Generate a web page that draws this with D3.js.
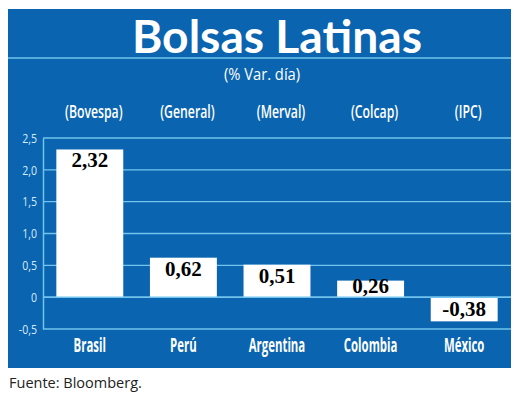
<!DOCTYPE html>
<html><head><meta charset="utf-8">
<script src="https://cdn.jsdelivr.net/npm/d3@7"></script>
<style>
html,body{margin:0;padding:0;background:#fff;}
svg{display:block;}
</style></head>
<body>
<script>
const categories = ["Brasil","Perú","Argentina","Colombia","México"];
const indices = ["(Bovespa)","(General)","(Merval)","(Colcap)","(IPC)"];
const values = [2.32, 0.62, 0.51, 0.26, -0.38];
const valueLabels = ["2,32","0,62","0,51","0,26","-0,38"];
const yTicks = [-0.5, 0, 0.5, 1.0, 1.5, 2.0, 2.5];
const yTickLabels = ["-0,5","0","0,5","1,0","1,5","2,0","2,5"];
const title = "Bolsas Latinas";
const subtitle = "(% Var. día)";
const source = "Fuente: Bloomberg.";

const W = 520, H = 408;
const blue = "#0a64af", light = "#72c4ee", tickCol = "#d6ecfb";
const sansF = "'Open Sans', Lato, sans-serif";

// condense text horizontally by a factor (font has no narrow cut installed)
function condense(sel, f) {
  sel.each(function () {
    const len = this.getComputedTextLength();
    d3.select(this).attr("textLength", len * f).attr("lengthAdjust", "spacingAndGlyphs");
  });
}

const svg = d3.select("body").append("svg").attr("width", W).attr("height", H);

// panel
svg.append("rect").attr("x", 8).attr("y", 9).attr("width", 503).attr("height", 359).attr("fill", blue);
svg.append("line").attr("x1", 8).attr("x2", 511).attr("y1", 58).attr("y2", 58)
  .attr("stroke", light).attr("stroke-width", 1.5);

svg.append("text").attr("x", 277).attr("y", 53).attr("text-anchor", "middle")
  .attr("font-family", "Lato, 'Open Sans', sans-serif").attr("font-weight", "bold")
  .attr("font-size", 46).attr("fill", "#fff")
  .attr("textLength", 290).attr("lengthAdjust", "spacingAndGlyphs").text(title);
svg.append("text").attr("x", 262).attr("y", 80).attr("text-anchor", "middle")
  .attr("font-family", sansF).attr("font-size", 16)
  .attr("fill", "#fff").text(subtitle).call(condense, 0.92);

const x = d3.scaleBand().domain(categories).range([43, 511]).paddingInner(0.285).paddingOuter(0.1425);
const y = d3.scaleLinear().domain([-0.5, 2.5]).range([329, 138]);

const g = svg.append("g");

// gridlines
g.selectAll("line.grid").data(yTicks.filter(d => d !== -0.5)).enter().append("line")
  .attr("x1", 43).attr("x2", 511).attr("y1", d => y(d)).attr("y2", d => y(d))
  .attr("stroke", light).attr("stroke-width", 1.3);

// axis
const yAxis = d3.axisLeft(y).tickValues(yTicks).tickSize(0).tickPadding(6)
  .tickFormat((d, i) => yTickLabels[i]);
const ag = g.append("g").attr("transform", "translate(43,0)").call(yAxis);
ag.select(".domain").attr("stroke", light).attr("stroke-width", 1.5);
ag.selectAll("text").attr("fill", tickCol).attr("font-family", sansF).attr("font-size", 13.5)
  .call(condense, 0.78);
g.append("line").attr("x1", 43).attr("x2", 511).attr("y1", y(-0.5)).attr("y2", y(-0.5))
  .attr("stroke", light).attr("stroke-width", 1.5);

// bars
g.selectAll("rect.bar").data(values).enter().append("rect")
  .attr("x", (d, i) => x(categories[i])).attr("width", x.bandwidth())
  .attr("y", d => y(Math.max(0, d))).attr("height", d => Math.abs(y(d) - y(0)))
  .attr("fill", "#fff");

// zero line
g.append("line").attr("x1", 43).attr("x2", 511).attr("y1", y(0)).attr("y2", y(0))
  .attr("stroke", light).attr("stroke-width", 1.5);

// value labels
g.selectAll("text.val").data(values).enter().append("text")
  .attr("x", (d, i) => x(categories[i]) + x.bandwidth() / 2)
  .attr("y", d => d >= 0 ? Math.min(y(d) + 18, y(0) - 4) : y(d) - 5)
  .attr("text-anchor", "middle").attr("font-family", "'Liberation Serif', 'Times New Roman', serif")
  .attr("font-weight", "bold").attr("font-size", 21).attr("fill", "#000")
  .text((d, i) => valueLabels[i]);

// category labels
g.selectAll("text.cat").data(categories).enter().append("text")
  .attr("x", d => x(d) + x.bandwidth() / 2).attr("y", 352)
  .attr("text-anchor", "middle").attr("font-family", sansF).attr("font-weight", "bold")
  .attr("font-size", 19).attr("fill", "#fff").text(d => d).call(condense, 0.6);

// index labels
g.selectAll("text.idx").data(indices).enter().append("text")
  .attr("x", (d, i) => x(categories[i]) + x.bandwidth() / 2 + 4).attr("y", 118)
  .attr("text-anchor", "middle").attr("font-family", sansF).attr("font-weight", 600)
  .attr("font-size", 18).attr("fill", "#fff").text(d => d).call(condense, 0.68);

svg.append("text").attr("x", 9).attr("y", 388)
  .attr("font-family", sansF).attr("font-size", 14.5)
  .attr("fill", "#222").text(source);
</script>
</body></html>
